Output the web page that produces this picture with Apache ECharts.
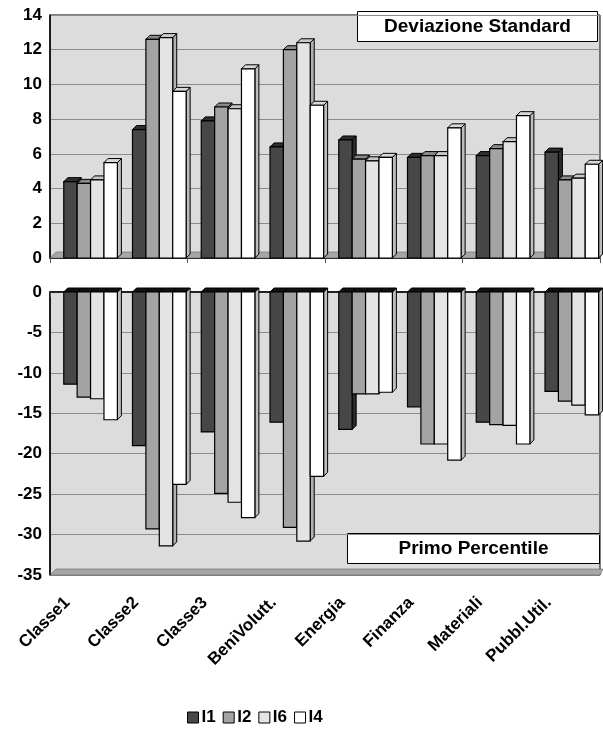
<!DOCTYPE html>
<html>
<head>
<meta charset="utf-8">
<script src="https://cdn.jsdelivr.net/npm/echarts@6/dist/echarts.min.js"></script>
<style>
  html, body { margin: 0; padding: 0; background: #fff; }
  #main { width: 603px; height: 736px; }
</style>
</head>
<body>
<div id="main"></div>
<script>
// categorie e serie
var categories = ['Classe1', 'Classe2', 'Classe3', 'BeniVolutt.', 'Energia', 'Finanza', 'Materiali', 'Pubbl.Util.'];
var seriesNames = ['I1', 'I2', 'I6', 'I4'];

// Deviazione Standard
var devI1 = [4.4, 7.4, 7.9, 6.4, 6.8, 5.8, 5.9, 6.1];
var devI2 = [4.3, 12.6, 8.7, 12.0, 5.7, 5.9, 6.3, 4.5];
var devI6 = [4.5, 12.7, 8.6, 12.4, 5.6, 5.9, 6.7, 4.6];
var devI4 = [5.5, 9.6, 10.9, 8.8, 5.8, 7.5, 8.2, 5.4];

// Primo Percentile
var pctI1 = [-11.4, -19.0, -17.3, -16.1, -17.0, -14.2, -16.1, -12.3];
var pctI2 = [-13.0, -29.3, -24.9, -29.1, -12.6, -18.8, -16.4, -13.5];
var pctI6 = [-13.2, -31.4, -26.0, -30.8, -12.6, -18.8, -16.5, -14.0];
var pctI4 = [-15.8, -23.8, -27.9, -22.8, -12.4, -20.8, -18.8, -15.2];

var yTicksTop = { min: 0, max: 14, interval: 2 };
var yTicksBottom = { min: -35, max: 0, interval: 5 };

var faceColors = ['#474747', '#a3a3a3', '#e4e4e4', '#ffffff'];
var sideColors = ['#2a2a2a', '#7a7a7a', '#b0b0b0', '#bdbdbd'];
var topColors = ['#2e2e2e', '#8a8a8a', '#c8c8c8', '#d8d8d8'];

var FONT = '"Liberation Sans", Arial, sans-serif';
var DEPTH = 4;

function makeRender(k, negative) {
    return function (params, api) {
        var cat = api.value(0);
        var v = api.value(1);
        var base = api.coord([cat, 0]);
        var end = api.coord([cat, v]);
        var band = api.size([1, 0])[0];
        var bw = band * 0.195;
        var x0 = base[0] - 2 * bw + k * bw + band * 0.09;
        var x1 = x0 + bw;
        var d = DEPTH;
        var children = [];
        var yTop = negative ? base[1] : end[1];
        var yBot = negative ? end[1] : base[1];
        // faccia laterale
        children.push({
            type: 'polygon',
            shape: { points: [[x1, yTop], [x1 + d, yTop - d], [x1 + d, yBot - d], [x1, yBot]] },
            style: { fill: sideColors[k], stroke: '#000', lineWidth: 1 }
        });
        // faccia superiore
        children.push({
            type: 'polygon',
            shape: { points: [[x0, yTop], [x0 + d, yTop - d], [x1 + d, yTop - d], [x1, yTop]] },
            style: { fill: negative ? '#111' : topColors[k], stroke: '#000', lineWidth: 1 }
        });
        // faccia frontale
        children.push({
            type: 'rect',
            shape: { x: x0, y: yTop, width: bw, height: yBot - yTop },
            style: { fill: faceColors[k], stroke: '#000', lineWidth: 1.2 }
        });
        return { type: 'group', children: children };
    };
}

function toData(arr) {
    return arr.map(function (v, i) { return [i, v]; });
}

var topData = [devI1, devI2, devI6, devI4];
var bottomData = [pctI1, pctI2, pctI6, pctI4];

var series = [];
seriesNames.forEach(function (name, k) {
    series.push({
        name: name,
        type: 'custom',
        xAxisIndex: 0,
        yAxisIndex: 0,
        z: 5,
        renderItem: makeRender(k, false),
        encode: { x: 0, y: 1 },
        itemStyle: { color: faceColors[k], borderColor: '#000' },
        data: toData(topData[k])
    });
});
seriesNames.forEach(function (name, k) {
    series.push({
        name: name,
        type: 'custom',
        xAxisIndex: 1,
        yAxisIndex: 1,
        z: 5,
        renderItem: makeRender(k, true),
        encode: { x: 0, y: 1 },
        itemStyle: { color: faceColors[k], borderColor: '#000' },
        data: toData(bottomData[k])
    });
});

var axisLabelStyle = { color: '#000', fontFamily: FONT, fontWeight: 'bold', fontSize: 17 };

var chart = echarts.init(document.getElementById('main'));

var option = {
    animation: false,
    textStyle: { fontFamily: FONT },
    grid: [
        { left: 50, top: 15, right: 3, height: 243, show: true, backgroundColor: '#dcdcdc', borderColor: '#000', borderWidth: 1 },
        { left: 50, top: 292, right: 3, height: 283, show: true, backgroundColor: '#dcdcdc', borderColor: '#000', borderWidth: 1 }
    ],
    xAxis: [
        {
            type: 'category', gridIndex: 0, data: categories,
            axisLine: { lineStyle: { color: '#000', width: 1.5 } },
            axisTick: { show: true, length: 5, lineStyle: { color: '#555' } },
            axisLabel: { show: false }
        },
        {
            type: 'category', gridIndex: 1, data: categories,
            axisLine: { lineStyle: { color: '#000', width: 1.5 } },
            axisTick: { show: true, length: 5, lineStyle: { color: '#555' } },
            axisLabel: {
                rotate: 45, margin: 8, interval: 0,
                padding: [0, 24, 0, 0],
                color: '#000', fontFamily: FONT, fontWeight: 'bold', fontSize: 17
            }
        }
    ],
    yAxis: [
        {
            type: 'value', gridIndex: 0,
            min: yTicksTop.min, max: yTicksTop.max, interval: yTicksTop.interval,
            axisLine: { show: true, lineStyle: { color: '#000', width: 1.5 } },
            axisTick: { show: false },
            axisLabel: Object.assign({ margin: 8 }, axisLabelStyle),
            splitLine: { lineStyle: { color: '#8c8c8c', width: 1 } }
        },
        {
            type: 'value', gridIndex: 1,
            min: yTicksBottom.min, max: yTicksBottom.max, interval: yTicksBottom.interval,
            axisLine: { show: true, lineStyle: { color: '#000', width: 1.5 } },
            axisTick: { show: false },
            axisLabel: Object.assign({ margin: 8 }, axisLabelStyle),
            splitLine: { lineStyle: { color: '#8c8c8c', width: 1 } }
        }
    ],
    legend: {
        data: seriesNames,
        left: 182,
        top: 704,
        itemWidth: 11,
        itemHeight: 11,
        itemGap: 7,
        icon: 'rect',
        itemStyle: { borderColor: '#000', borderWidth: 1 },
        textStyle: { color: '#000', fontFamily: FONT, fontWeight: 'bold', fontSize: 17, padding: [0, 0, 0, -2] }
    },
    graphic: [
        // pavimento 3D
        { type: 'polygon', z: 1, shape: { points: [[50, 258], [56, 252], [603, 252], [600, 258]] }, style: { fill: '#a6a6a6', stroke: '#555', lineWidth: 0.5 } },
        { type: 'polygon', z: 1, shape: { points: [[50, 575], [56, 569], [603, 569], [600, 575]] }, style: { fill: '#a6a6a6', stroke: '#555', lineWidth: 0.5 } },
        {
            type: 'group', left: 357, top: 11, z: 100,
            children: [
                { type: 'rect', shape: { x: 0, y: 0, width: 240, height: 30 }, style: { fill: '#fff', stroke: '#000', lineWidth: 1 } },
                { type: 'text', x: 120, y: 15, style: { text: 'Deviazione Standard', fill: '#000', font: 'bold 19px ' + FONT, textAlign: 'center', textVerticalAlign: 'middle' } }
            ]
        },
        {
            type: 'group', left: 347, top: 533, z: 100,
            children: [
                { type: 'rect', shape: { x: 0, y: 0, width: 252, height: 30 }, style: { fill: '#fff', stroke: '#000', lineWidth: 1 } },
                { type: 'text', x: 126, y: 15, style: { text: 'Primo Percentile', fill: '#000', font: 'bold 19px ' + FONT, textAlign: 'center', textVerticalAlign: 'middle' } }
            ]
        }
    ],
    series: series
};

chart.setOption(option);
</script>
</body>
</html>
